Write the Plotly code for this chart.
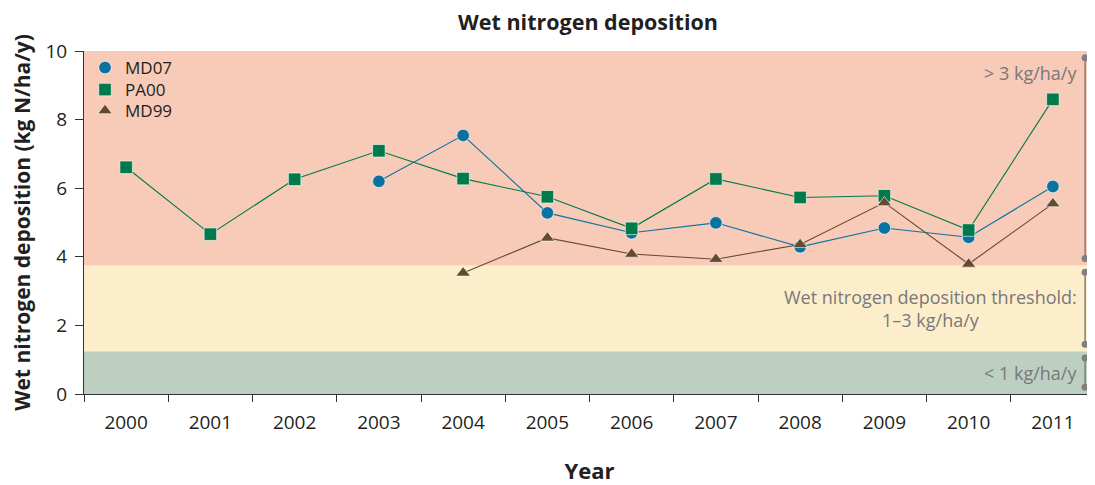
import plotly.graph_objects as go

years = [2000, 2001, 2002, 2003, 2004, 2005, 2006, 2007, 2008, 2009, 2010, 2011]
md07 = [None, None, None, 6.20, 7.54, 5.28, 4.70, 4.99, 4.29, 4.84, 4.57, 6.05]
pa00 = [6.61, 4.66, 6.26, 7.09, 6.28, 5.75, 4.83, 6.27, 5.73, 5.78, 4.78, 8.59]
md99 = [None, None, None, None, 3.53, 4.55, 4.08, 3.93, 4.36, 5.58, 3.79, 5.55]

band_edges = [0, 1.25, 3.75, 10]
band_colors = ["#BDCFC1", "#FDEECB", "#F8CAB8"]
band_labels = ["< 1 kg/ha/y", "Wet nitrogen deposition threshold:<br>1–3 kg/ha/y", "> 3 kg/ha/y"]
y_ticks = [0, 2, 4, 6, 8, 10]

FONT = "Open Sans"
GREY = "#77787b"
DARK = "#231f20"

# page body has an 8px margin: figure sized/offset to compensate
W, H = 1087, 477
T, B, L = 43, 91, 76
plot_h = H - T - B

fig = go.Figure()

series = [
    ("MD07", md07, "#0A72A0", "circle", "legend", 60),
    ("PA00", pa00, "#007A4B", "square", "legend2", 82),
    ("MD99", md99, "#654A2C", "triangle-up", "legend3", 103),
]
legend_layout = {}
for name, vals, col, sym, leg, ypx in series:
    mk = dict(symbol=sym, size=12.5, color=col, line=dict(color="rgba(255,255,255,0.6)", width=1))
    fig.add_trace(go.Scatter(
        x=years, y=vals, name=name, mode="lines+markers",
        line=dict(color=col, width=1.1), marker=mk,
        connectgaps=False, showlegend=False,
    ))
    # marker-only legend entry
    fig.add_trace(go.Scatter(x=[None], y=[None], name=name, mode="markers", marker=mk,
                             legend=leg, showlegend=True))
    legend_layout[leg] = dict(
        x=0.001, y=1 - (ypx - T) / plot_h, xanchor="left", yanchor="middle",
        bgcolor="rgba(0,0,0,0)", font=dict(family=FONT, size=17, color=DARK), itemwidth=30)

shapes = []
for i in range(3):
    shapes.append(dict(type="rect", xref="paper", yref="y", x0=0, x1=1,
                       y0=band_edges[i], y1=band_edges[i + 1],
                       fillcolor=band_colors[i], line=dict(width=0), layer="below"))
    lo = band_edges[i] + 0.2
    hi = band_edges[i + 1] - 0.2
    shapes.append(dict(type="line", xref="paper", yref="y", x0=0.9902, x1=0.9902,
                       y0=lo, y1=hi, line=dict(color="#808080", width=1.5)))
    for yv in (lo, hi):
        shapes.append(dict(type="circle", xref="paper", yref="y", xsizemode="pixel", ysizemode="pixel",
                           xanchor=0.9902, yanchor=yv, x0=-3.5, x1=3.5, y0=-3.5, y1=3.5,
                           fillcolor="#808080", line=dict(width=0)))

annotations = [
    dict(xref="paper", yref="y", x=0.984, y=0.62, text=band_labels[0], showarrow=False,
         xanchor="right", yanchor="middle", font=dict(family=FONT, size=18, color=GREY)),
    dict(xref="paper", yref="y", x=0.984, y=2.5, text=band_labels[1], showarrow=False,
         xanchor="right", yanchor="middle", align="center",
         font=dict(family=FONT, size=18, color=GREY)),
    dict(xref="paper", yref="y", x=0.984, y=9.35, text=band_labels[2], showarrow=False,
         xanchor="right", yanchor="middle", font=dict(family=FONT, size=18, color=GREY)),
]

boundaries = [y - 0.5 for y in years]

fig.update_layout(
    width=W, height=H,
    margin=dict(l=L, r=0, t=T, b=B, autoexpand=False),
    paper_bgcolor="white", plot_bgcolor="white",
    font=dict(family=FONT, color=DARK),
    title=dict(text="<b>Wet nitrogen deposition</b>", x=580 / W, xref="container", xanchor="center",
               y=1 - 14 / H, yref="container", yanchor="middle",
               font=dict(family=FONT, size=21.5, color=DARK)),
    shapes=shapes, annotations=annotations,
    showlegend=True,
    xaxis=dict(range=[1999.5, 2011.5], tickvals=years, ticktext=[str(y) for y in years],
               ticks="outside", ticklen=11, tickcolor="rgba(0,0,0,0)",
               minor=dict(tickvals=boundaries, ticks="outside", ticklen=7, tickcolor="#333", tickwidth=1),
               showline=True, linecolor="#333", linewidth=1, showgrid=False, zeroline=False,
               tickfont=dict(family=FONT, size=19, color=DARK), automargin=True,
               title=dict(text="<b>Year</b>", font=dict(family=FONT, size=22, color=DARK), standoff=37)),
    yaxis=dict(range=[0, 10], tickvals=y_ticks, ticks="outside", ticklen=8, tickcolor="#333",
               showline=True, linecolor="#333", linewidth=1, showgrid=False, zeroline=False,
               tickfont=dict(family=FONT, size=19, color=DARK), automargin=True,
               ticklabelstandoff=4,
               title=dict(text="<b>Wet nitrogen deposition (kg N/ha/y)</b>",
                          font=dict(family=FONT, size=21, color=DARK), standoff=15)),
    **legend_layout,
)

fig.write_html("out.html")
